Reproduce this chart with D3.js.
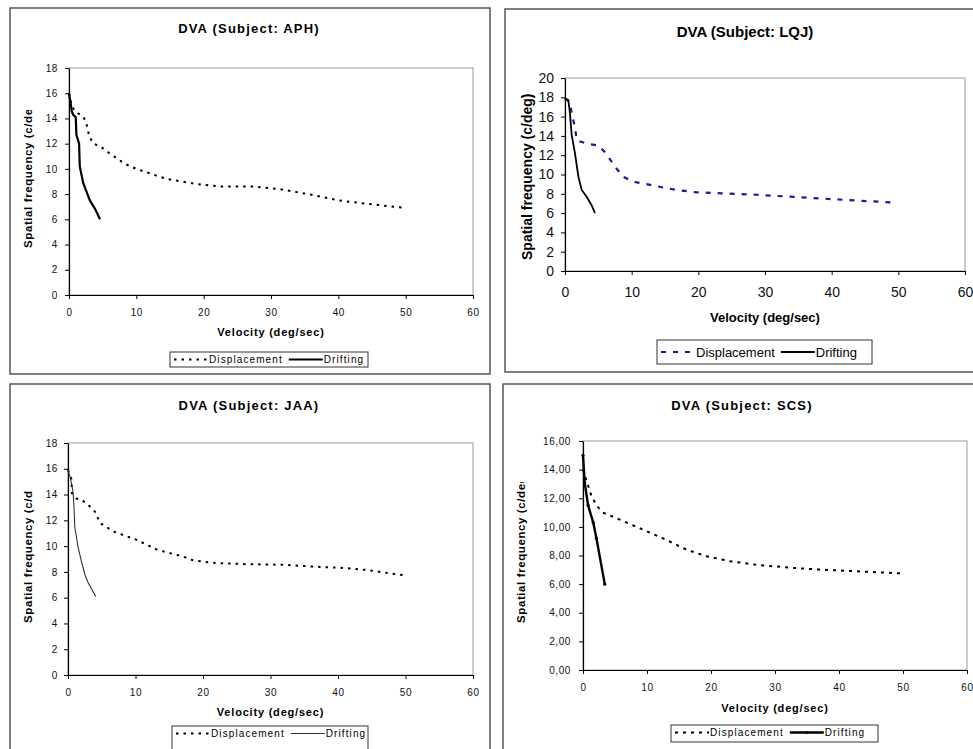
<!DOCTYPE html>
<html>
<head>
<meta charset="utf-8">
<script src="https://cdn.jsdelivr.net/npm/d3@7"></script>
<style>
  body { margin: 0; background: #fff; }
  svg { display: block; }
</style>
</head>
<body>
<div id="chart"></div>
<script>
// velocity ticks shared by all four charts
var xTicks = [0, 10, 20, 30, 40, 50, 60];

// Subject APH
var aphDispX = [0, 0.4, 1, 2, 2.5, 3, 3.6, 4.6, 6.1, 8.3, 10, 14.5, 19, 22.4, 27.4, 31.3, 36.5, 40, 43.2, 48.2, 50];
var aphDispY = [16, 15, 14.5, 14.2, 13.8, 12.6, 12.0, 11.8, 11.2, 10.4, 10.0, 9.2, 8.8, 8.6, 8.6, 8.4, 7.9, 7.5, 7.3, 7.0, 6.9];
var aphDriftX = [0, 0.25, 0.4, 0.6, 1.0, 1.1, 1.5, 1.6, 2.1, 2.6, 3.1, 3.9, 4.6];
var aphDriftY = [16, 15.2, 14.6, 14.3, 14.1, 12.7, 12.0, 10.2, 8.9, 8.2, 7.5, 6.8, 6.0];

// Subject LQJ
var lqjDispX = [0, 0.75, 1, 1.5, 1.75, 3.25, 5, 6, 7.75, 8.75, 10.25, 12.25, 14.75, 16.75, 19.75, 23.75, 28.75, 33.75, 38.75, 43.75, 49.25];
var lqjDispY = [17.9, 17.5, 16.3, 14.9, 13.55, 13.2, 13.0, 12.3, 10.6, 9.75, 9.25, 9.0, 8.65, 8.4, 8.15, 8.05, 7.9, 7.7, 7.5, 7.3, 7.1];
var lqjDriftX = [0, 0.5, 0.75, 1, 1.5, 2, 2.5, 3.25, 4, 4.5];
var lqjDriftY = [17.9, 17.7, 16.3, 14.1, 12.2, 9.8, 8.4, 7.7, 6.8, 6.0];

// Subject JAA
var jaaDispX = [0, 0.5, 0.6, 1.2, 2, 3, 3.95, 4.4, 4.7, 6.9, 10.1, 13.3, 17, 18.5, 21.5, 26.4, 31.9, 36.8, 41.2, 44.2, 49.6];
var jaaDispY = [15.9, 15.2, 14.1, 13.7, 13.6, 13.2, 12.7, 12.2, 11.8, 11.1, 10.5, 9.7, 9.2, 8.9, 8.7, 8.6, 8.55, 8.4, 8.3, 8.15, 7.75];
var jaaDriftX = [0, 0.35, 0.75, 0.9, 1, 1.5, 2, 2.5, 2.95, 4.1];
var jaaDriftY = [15.9, 15.3, 14.2, 12.9, 11.5, 9.9, 8.8, 7.8, 7.2, 6.1];

// Subject SCS
var scsDispX = [0, 0.5, 1.3, 2.1, 3.1, 4.2, 6.3, 9.4, 12.5, 16.2, 19.3, 23, 27.1, 32.3, 37.6, 42.8, 49.6];
var scsDispY = [14.0, 13.3, 12.2, 11.5, 11.0, 10.8, 10.4, 9.8, 9.2, 8.4, 7.95, 7.6, 7.35, 7.15, 7.0, 6.9, 6.75];
var scsDriftX = [0, 0.26, 0.8, 1.6, 2.1, 3.4];
var scsDriftY = [15.0, 13.1, 11.5, 10.3, 9.2, 6.0];

var svg = d3.select("#chart").append("svg")
  .attr("width", 973)
  .attr("height", 749);

var fontFam = "'Liberation Sans', Arial, sans-serif";
var narrowFam = "'Liberation Sans Narrow', 'Arial Narrow', 'Liberation Sans', sans-serif";

// layout of each chart box
var panels = [
  {
    title: "DVA (Subject: APH)", frame: [10, 8, 480, 366],
    x0: 69, x1: 473, yTop: 68, yBot: 295, yMax: 18, fmt: d3.format("d"),
    titleY: 33, titleX: 249, titleSize: 13, spacing: 1.2, tickFam: fontFam,
    tickSize: 10, tickY: 312, yPad: 7, xTitleY: 336, xTitleSize: 11,
    yTitleX: 28, yTitleBottom: 248, yTitleSize: 11.5, clipTop: 110,
    legend: [170, 352, 198, 15], legSize: 10,
    disp: [aphDispX, aphDispY], drift: [aphDriftX, aphDriftY],
    dispColor: "#000", dispDash: "2.5,5", dispWidth: 2, driftColor: "#000", driftWidth: 2.2
  },
  {
    title: "DVA (Subject: LQJ)", frame: [505, 9, 480, 363],
    x0: 565, x1: 965, yTop: 78, yBot: 271, yMax: 20, fmt: d3.format("d"),
    titleY: 37, titleX: 745, titleSize: 15, spacing: 0, tickFam: narrowFam,
    tickSize: 14, tickY: 292, yPad: 7, xTitleY: 322, xTitleSize: 13,
    yTitleX: 527, yTitleBottom: 260, yTitleSize: 14, clipTop: 0,
    legend: [657, 340, 215, 24], legSize: 13,
    disp: [lqjDispX, lqjDispY], drift: [lqjDriftX, lqjDriftY],
    dispColor: "#1a1a9c", dispDash: "5,7", dispWidth: 2.2, driftColor: "#000", driftWidth: 1.8
  },
  {
    title: "DVA (Subject: JAA)", frame: [10, 384, 480, 380],
    x0: 68, x1: 473, yTop: 443, yBot: 675, yMax: 18, fmt: d3.format("d"),
    titleY: 410, titleX: 249, titleSize: 13, spacing: 1.2, tickFam: fontFam,
    tickSize: 10, tickY: 692, yPad: 6, xTitleY: 716, xTitleSize: 11,
    yTitleX: 28, yTitleBottom: 623, yTitleSize: 11.5, clipTop: 490,
    legend: [172, 726, 196, 30], legSize: 10,
    disp: [jaaDispX, jaaDispY], drift: [jaaDriftX, jaaDriftY],
    dispColor: "#000", dispDash: "2.5,5", dispWidth: 2, driftColor: "#333", driftWidth: 1.1
  },
  {
    title: "DVA (Subject: SCS)", frame: [503, 384, 480, 380],
    x0: 583, x1: 967, yTop: 441, yBot: 670, yMax: 16,
    fmt: function(d) { return d3.format(".2f")(d).replace(".", ","); },
    titleY: 410, titleX: 742, titleSize: 13, spacing: 1.2, tickFam: fontFam,
    tickSize: 10, tickY: 687, yPad: 8, xTitleY: 712, xTitleSize: 11,
    yTitleX: 521, yTitleBottom: 623, yTitleSize: 11.5, clipTop: 482,
    legend: [671, 725, 207, 17], legSize: 10,
    disp: [scsDispX, scsDispY], drift: [scsDriftX, scsDriftY],
    dispColor: "#000", dispDash: "3,5", dispWidth: 2, driftColor: "#000", driftWidth: 2.4, markers: true
  }
];

function toPoints(xs, ys) {
  return xs.map(function(v, i) { return [v, ys[i]]; });
}

function drawPanel(p, idx) {
  var g = svg.append("g");

  g.append("rect")
    .attr("x", p.frame[0]).attr("y", p.frame[1])
    .attr("width", p.frame[2]).attr("height", p.frame[3])
    .attr("fill", "#fff").attr("stroke", "#555").attr("stroke-width", 1.5);

  var x = d3.scaleLinear().domain([0, 60]).range([p.x0, p.x1]);
  var y = d3.scaleLinear().domain([0, p.yMax]).range([p.yBot, p.yTop]);

  // plot area border
  g.append("rect")
    .attr("x", p.x0).attr("y", p.yTop)
    .attr("width", p.x1 - p.x0).attr("height", p.yBot - p.yTop)
    .attr("fill", "none").attr("stroke", "#999").attr("stroke-width", 1);

  // title
  g.append("text")
    .attr("x", p.titleX).attr("y", p.titleY)
    .attr("text-anchor", "middle")
    .style("font", "bold " + p.titleSize + "px " + fontFam)
    .style("letter-spacing", p.spacing + "px")
    .text(p.title);

  // x axis
  var base = p.tickY + 0.36 * p.tickSize;
  var xAxis = g.append("g")
    .attr("transform", "translate(0," + p.yBot + ")")
    .call(d3.axisBottom(x).tickValues(xTicks).tickSize(4).tickSizeOuter(0)
      .tickPadding(base - 0.71 * p.tickSize - p.yBot - 4));

  var yTicks = d3.range(0, p.yMax + 0.1, 2);
  var yAxis = g.append("g")
    .attr("transform", "translate(" + p.x0 + ",0)")
    .call(d3.axisLeft(y).tickValues(yTicks).tickFormat(p.fmt).tickSize(4).tickSizeOuter(0)
      .tickPadding(p.yPad));

  [xAxis, yAxis].forEach(function(a) {
    a.select(".domain").attr("stroke", "#000").attr("stroke-width", 1.2);
    a.selectAll(".tick line").attr("stroke", "#000");
    a.selectAll(".tick text")
      .attr("fill", "#111")
      .style("font-family", p.tickFam)
      .style("font-size", p.tickSize + "px")
      .style("letter-spacing", p.spacing ? "0.6px" : "0px");
  });

  // axis titles
  g.append("text")
    .attr("x", (p.x0 + p.x1) / 2).attr("y", p.xTitleY)
    .attr("text-anchor", "middle")
    .style("font", "bold " + p.xTitleSize + "px " + (p.spacing ? fontFam : narrowFam))
    .style("letter-spacing", p.spacing ? "0.8px" : "0px")
    .text("Velocity (deg/sec)");

  // y title is cut off at the top in the original, so clip it the same way
  var clipId = "yclip" + idx;
  svg.append("clipPath").attr("id", clipId)
    .append("rect")
    .attr("x", p.yTitleX - 15).attr("y", p.clipTop)
    .attr("width", 30).attr("height", 749);

  g.append("g")
    .attr("clip-path", "url(#" + clipId + ")")
    .append("text")
    .attr("transform", "translate(" + p.yTitleX + "," + p.yTitleBottom + ") rotate(-90)")
    .attr("text-anchor", "start")
    .attr("dy", "0.35em")
    .style("font", "bold " + p.yTitleSize + "px " + (p.spacing ? fontFam : narrowFam))
    .style("letter-spacing", p.spacing ? "0.6px" : "0px")
    .text("Spatial frequency (c/deg)");

  var line = d3.line()
    .x(function(d) { return x(d[0]); })
    .y(function(d) { return y(d[1]); });

  g.append("path")
    .datum(toPoints(p.disp[0], p.disp[1]))
    .attr("d", line)
    .attr("fill", "none")
    .attr("stroke", p.dispColor)
    .attr("stroke-width", p.dispWidth)
    .attr("stroke-dasharray", p.dispDash);

  var driftPts = toPoints(p.drift[0], p.drift[1]);
  g.append("path")
    .datum(driftPts)
    .attr("d", line)
    .attr("fill", "none")
    .attr("stroke", p.driftColor)
    .attr("stroke-width", p.driftWidth);

  if (p.markers) {
    g.selectAll(".mk").data(driftPts).enter().append("circle")
      .attr("cx", function(d) { return x(d[0]); })
      .attr("cy", function(d) { return y(d[1]); })
      .attr("r", 1.6).attr("fill", "#000");
  }

  // legend
  var L = p.legend;
  g.append("rect")
    .attr("x", L[0]).attr("y", L[1]).attr("width", L[2]).attr("height", L[3])
    .attr("fill", "#fff").attr("stroke", "#333").attr("stroke-width", 1);

  var midY = L[1] + Math.min(L[3], p.spacing ? 15 : 24) / 2;
  var sx = L[0] + 4;
  var legFam = p.spacing ? fontFam : narrowFam;
  g.append("line")
    .attr("x1", sx).attr("x2", sx + 34).attr("y1", midY).attr("y2", midY)
    .attr("stroke", p.dispColor).attr("stroke-width", p.dispWidth)
    .attr("stroke-dasharray", p.dispDash);
  var t1 = g.append("text")
    .attr("x", sx + 35).attr("y", midY).attr("dy", "0.35em")
    .style("font-family", legFam).style("font-size", p.legSize + "px")
    .style("letter-spacing", p.spacing ? "1.1px" : "0px")
    .text("Displacement");
  var ex = sx + 35 + t1.node().getComputedTextLength() + 6;
  g.append("line")
    .attr("x1", ex).attr("x2", ex + 34).attr("y1", midY).attr("y2", midY)
    .attr("stroke", p.driftColor).attr("stroke-width", p.driftWidth);
  if (p.markers) {
    g.append("circle").attr("cx", ex + 17).attr("cy", midY).attr("r", 1.6).attr("fill", "#000");
  }
  g.append("text")
    .attr("x", ex + 35).attr("y", midY).attr("dy", "0.35em")
    .style("font-family", legFam).style("font-size", p.legSize + "px")
    .style("letter-spacing", p.spacing ? "1.1px" : "0px")
    .text("Drifting");
}

panels.forEach(drawPanel);
</script>
</body>
</html>
